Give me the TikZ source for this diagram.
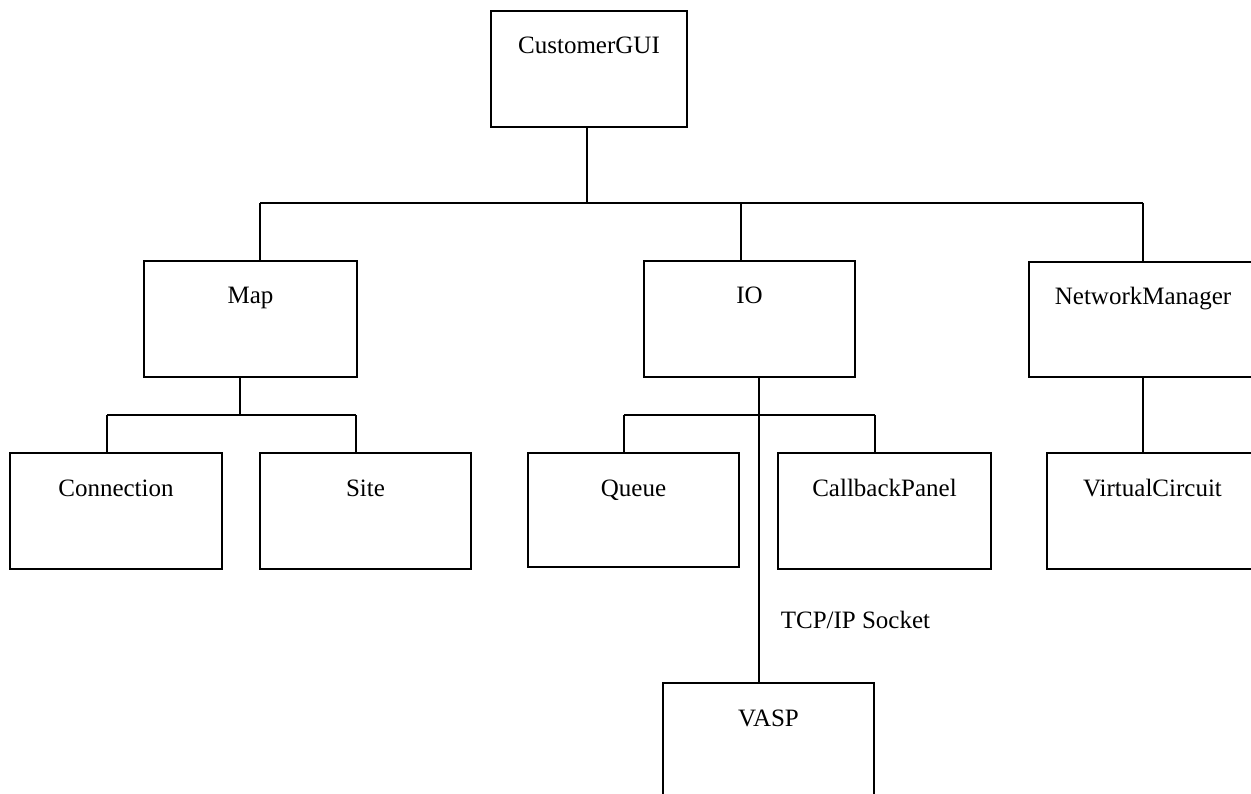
\documentclass[tikz,border=0pt]{standalone}
\usepackage{fontspec}
\setmainfont{Liberation Serif}
\begin{document}
\begin{tikzpicture}[x=1pt,y=-1pt,
  line width=1.6pt,
  every node/.style={font=\fontsize{25}{30}\selectfont},
  classbox/.style n args={2}{draw, line width=1.6pt, inner xsep=0pt, inner ysep=0pt,
    minimum width=#1, text height=43pt, text depth=#2-43pt}]
\useasboundingbox (0,0) rectangle (1251,794);

% class boxes (name at the top of each box)
\node[classbox={196pt}{116pt}] (cgui)  at (589,69)      {CustomerGUI};
\node[classbox={213pt}{116pt}] (map)   at (250.5,319)   {Map};
\node[classbox={211pt}{116pt}] (io)    at (749.5,319)   {IO};
\node[classbox={228pt}{115pt}] (nm)    at (1143,319.5)  {NetworkManager};
\node[classbox={212pt}{116pt}] (conn)  at (116,511)     {Connection};
\node[classbox={211pt}{116pt}] (site)  at (365.5,511)   {Site};
\node[classbox={211pt}{114pt}] (queue) at (633.5,510)   {Queue};
\node[classbox={213pt}{116pt}] (cb)    at (884.5,511)   {CallbackPanel};
\node[classbox={211pt}{116pt}] (vc)    at (1152.5,511)  {VirtualCircuit};
\node[classbox={211pt}{116pt}] (vasp)  at (768.5,741)   {VASP};

% top level bus
\coordinate (t0) at (587,203);
\coordinate (t1) at (260,203);
\coordinate (t2) at (741,203);
\coordinate (t3) at (1143,203);
\draw (cgui.south -| t0) -- (t0);
\draw (t1) -- (t3);
\draw (t1) -- (map.north -| t1);
\draw (t2) -- (io.north -| t2);
\draw (t3) -- (nm.north -| t3);

% Map children
\coordinate (m0) at (240,415);
\coordinate (m1) at (107,415);
\coordinate (m2) at (356,415);
\draw (map.south -| m0) -- (m0);
\draw (m1) -- (m2);
\draw (m1) -- (conn.north -| m1);
\draw (m2) -- (site.north -| m2);

% IO children and socket link
\coordinate (i0) at (759,415);
\coordinate (i1) at (624,415);
\coordinate (i2) at (875,415);
\draw (io.south -| i0) -- (vasp.north -| i0);
\draw (i1) -- (i2);
\draw (i1) -- (queue.north -| i1);
\draw (i2) -- (cb.north -| i2);
\node[anchor=base west, inner sep=0pt] (tcp) at (780,628) {TCP/IP Socket};

% NetworkManager child
\draw (nm.south) -- (nm.south |- vc.north);
\end{tikzpicture}
\end{document}
